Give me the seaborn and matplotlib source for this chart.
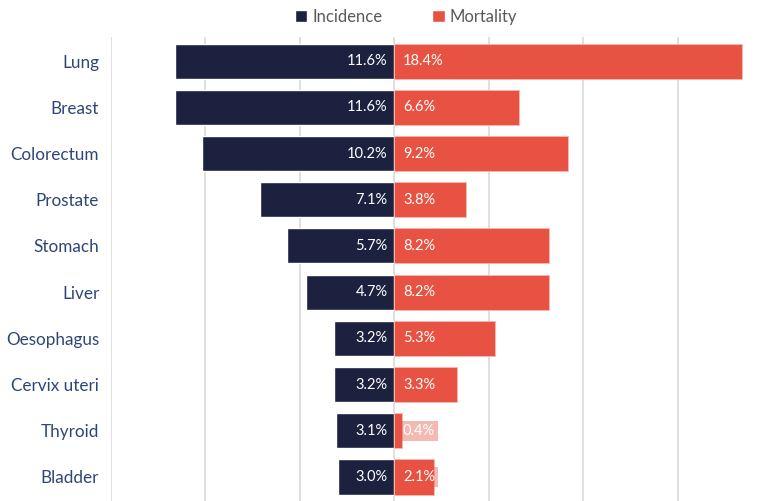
import matplotlib
matplotlib.use("Agg")
import matplotlib.pyplot as plt
import seaborn as sns
import pandas as pd
from matplotlib.patches import Patch

# Share of new cases and deaths by cancer site (%)
sites = ["Lung", "Breast", "Colorectum", "Prostate", "Stomach", "Liver",
         "Oesophagus", "Cervix uteri", "Thyroid", "Bladder"]
incidence = [11.6, 11.6, 10.2, 7.1, 5.7, 4.7, 3.2, 3.2, 3.1, 3.0]
mortality = [18.4, 6.6, 9.2, 3.8, 8.2, 8.2, 5.3, 3.3, 0.4, 2.1]

NAVY = "#1C2140"
RED = "#E85243"
LABEL_BLUE = "#2E4677"

sns.set_theme(style="white")
plt.rcParams["font.family"] = ["Lato", "DejaVu Sans"]

df = pd.DataFrame({"site": sites,
                   "incidence": [-v for v in incidence],
                   "mortality": mortality})

fig = plt.figure(figsize=(7.66, 5.01), dpi=100)
ax = fig.add_axes([0.1449, 0.0, 0.8551, 0.926])

sns.barplot(data=df, x="incidence", y="site", orient="h", color=NAVY,
            width=0.76, saturation=1, ax=ax, zorder=3)
sns.barplot(data=df, x="mortality", y="site", orient="h", color=RED,
            width=0.76, saturation=1, ax=ax, zorder=3,
            edgecolor="#F6B9B3", linewidth=0.6)

# value labels next to the zero line
for i, (inc, mort) in enumerate(zip(incidence, mortality)):
    ax.text(-0.35, i, f"{inc:.1f}%", ha="right", va="center",
            color="white", fontsize=10.5, zorder=5)
    ax.text(0.45, i, f"{mort:.1f}%", ha="left", va="center",
            color="white", fontsize=10.5, zorder=5,
            bbox=dict(boxstyle="square,pad=0.2", facecolor=RED,
                      edgecolor="none", alpha=0.4))

ax.set_xlim(-15, 19.66)
ax.set_ylim(9.52, -0.52)
ax.set_xticks([-15, -10, -5, 0, 5, 10, 15])
ax.set_xticklabels([])
ax.grid(axis="x", color="#D9D9D9", linewidth=1.2, zorder=0)
ax.grid(axis="y", visible=False)
ax.set_xlabel("")
ax.set_ylabel("")
ax.tick_params(axis="y", length=0, pad=8.5, labelsize=12.3, labelcolor=LABEL_BLUE)
ax.tick_params(axis="x", length=0)
for s in ax.spines.values():
    s.set_visible(False)

handles = [Patch(facecolor=NAVY, label="Incidence"),
           Patch(facecolor=RED, label="Mortality")]
leg = fig.legend(handles=handles, loc="center", bbox_to_anchor=(0.53, 0.966),
                 ncol=2, frameon=False, fontsize=12, handlelength=0.75,
                 handleheight=0.75, handletextpad=0.3, columnspacing=3.0)
for t in leg.get_texts():
    t.set_color("#595959")

fig.savefig("out.png", dpi=100)
